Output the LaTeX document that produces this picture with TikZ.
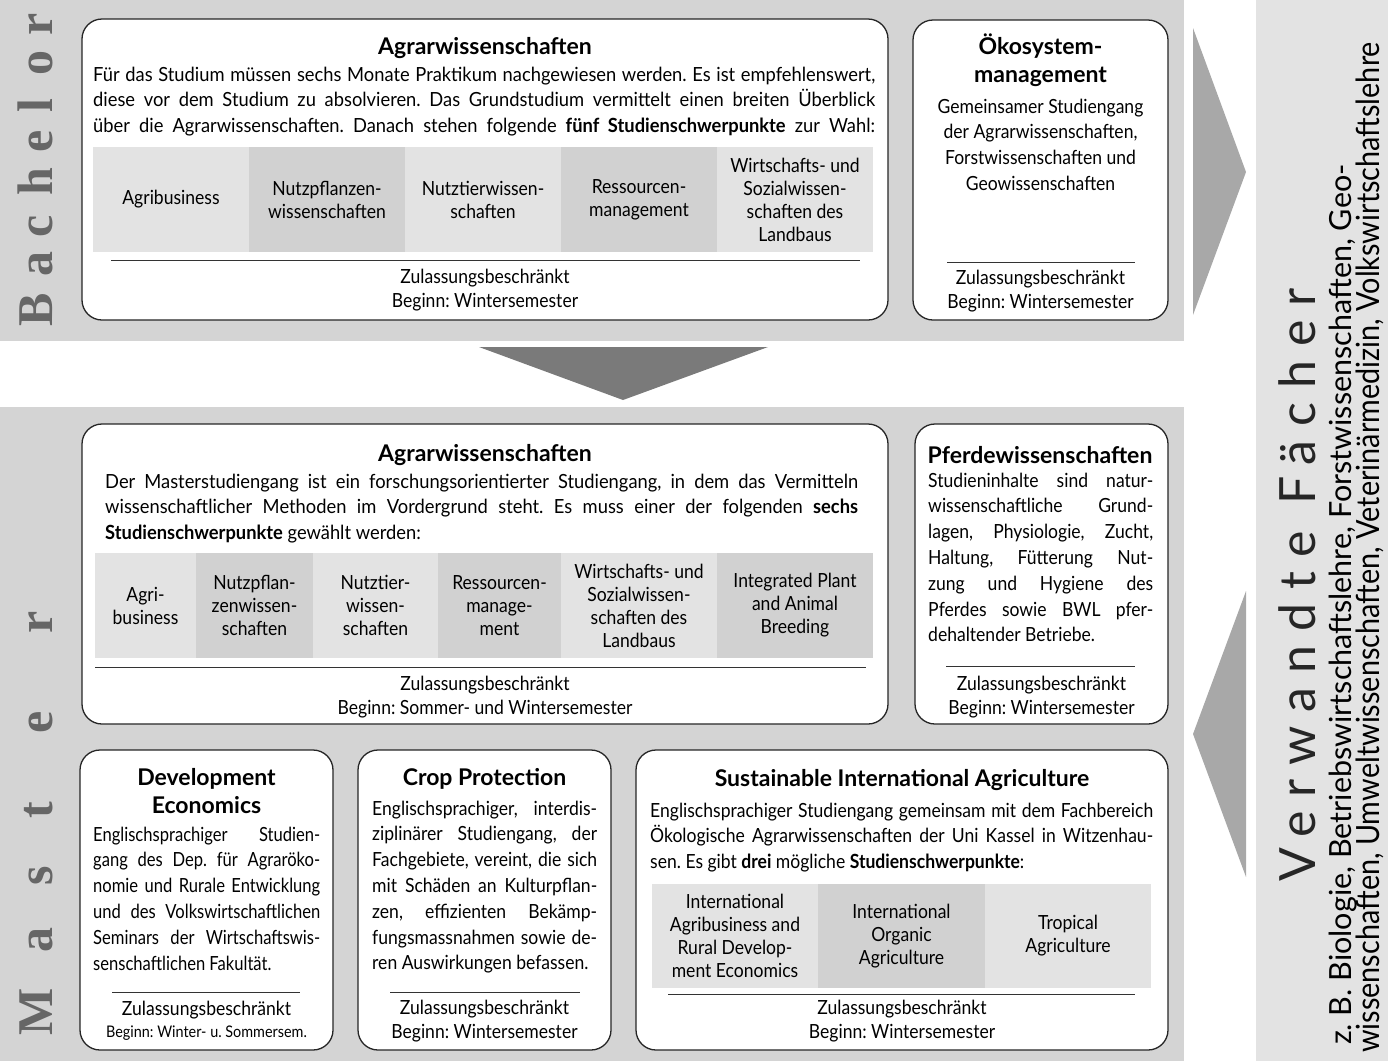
\documentclass[tikz,border=0pt]{standalone}
\usepackage{fontspec}
\setmainfont{Lato}[FakeStretch=0.9]
\newfontfamily\headface{Lato}
\newfontfamily\tightface{Lato}[FakeStretch=0.85]
\newfontfamily\looseface{Lato}[FakeStretch=0.94]
\newfontfamily\sideface{Lato}[FakeStretch=0.9]
\newfontfamily\sidewide{Lato}
\newfontfamily\wideface{Lato}[LetterSpace=28]
\newfontfamily\levelface{Liberation Serif}
\usepackage{tikz}
\hfuzz=100pt
\hbadness=10000
\hyphenpenalty=10000
\frenchspacing

\definecolor{band}{gray}{0.83}
\definecolor{side}{gray}{0.89}
\definecolor{lightcell}{gray}{0.89}
\definecolor{darkcell}{gray}{0.82}
\definecolor{arrowdark}{gray}{0.48}
\definecolor{arrowlight}{gray}{0.66}
\definecolor{labelgray}{gray}{0.4}

\begin{document}
\begin{tikzpicture}[x=1pt,y=-1pt]
\tikzstyle{prog}=[draw=black!85, line width=1.3pt, rounded corners=20pt, fill=white, inner sep=0]
\tikzstyle{heading}=[font=\headface\bfseries\fontsize{23}{28}\selectfont, align=center, inner sep=0]
\tikzstyle{para}=[font=\fontsize{19.5}{25.8}\selectfont, align=justify, anchor=base west, inner sep=0]
\tikzstyle{focus1}=[fill=lightcell, align=center, inner sep=0, font=\fontsize{19.5}{23}\selectfont]
\tikzstyle{focus2}=[focus1, fill=darkcell]
\tikzstyle{admit}=[font=\fontsize{19.5}{24.5}\selectfont, align=center, inner sep=0]
\tikzstyle{sep}=[line width=1pt, black!80]
\tikzstyle{level}=[rotate=90, anchor=base, inner sep=0, text=labelgray, font=\levelface\bfseries\fontsize{50}{50}\selectfont]

\useasboundingbox (0,0) rectangle (1388,1061);

% bands
\fill[band] (0,0) rectangle (1184,341);
\fill[band] (0,407) rectangle (1184,1061);
\fill[side] (1256,0) rectangle (1388,1061);

% arrows
\fill[arrowdark] (479,347) -- (768,347) -- (623,400) -- cycle;
\fill[arrowlight] (1193,28) -- (1246,172) -- (1193,315) -- cycle;
\fill[arrowlight] (1246,591) -- (1193,734) -- (1246,877) -- cycle;

% side labels
\foreach \ch/\pos in {B/310,a/264,c/226,h/182,e/141,l/106,o/63,r/24}
  \node (b\ch) at (52,\pos) [level] {\ch};
\foreach \ch/\pos in {M/1012,a/940,s/876,t/810,e/722,r/622}
  \node (m\ch) at (52,\pos) [level] {\ch};

% Bachelor Agrarwissenschaften
\node (bagrar) at (485,169.5) [prog, minimum width=806pt, minimum height=301pt] {};
\node (bagrart) at (485,48) [heading] {Agrarwissenschaften};
\node (bagrarp) at (93,81) [para, text width=782pt, font=\looseface\fontsize{19.5}{25.8}\selectfont] {Für das Studium müssen sechs Monate Praktikum nachgewiesen werden. Es ist empfehlenswert,\linebreak
  diese vor dem Studium zu absolvieren. Das Grundstudium vermittelt einen breiten Überblick\linebreak
  über die Agrarwissenschaften. Danach stehen folgende \textbf{fünf Studienschwerpunkte} zur Wahl:\linebreak\mbox{}};
\node (b1) at (171,199.5) [focus1, minimum width=156pt, minimum height=105pt] {Agribusiness};
\node (b2) at (327,199.5) [focus2, minimum width=156pt, minimum height=105pt] {Nutzpflanzen-\\wissenschaften};
\node (b3) at (483,199.5) [focus1, minimum width=156pt, minimum height=105pt] {Nutztierwissen-\\schaften};
\node (b4) at (639,199.5) [focus2, minimum width=156pt, minimum height=105pt] {Ressourcen-\\management};
\node (b5) at (795,199.5) [focus1, minimum width=156pt, minimum height=105pt] {Wirtschafts- und\\Sozialwissen-\\schaften des\\Landbaus};
\draw[sep] (111,260) -- (860,260);
\node (bagrarz) at (485,290) [admit] {Zulassungsbeschränkt\\Beginn: Wintersemester};

% Bachelor Oekosystemmanagement
\node (boeko) at (1040.5,170) [prog, minimum width=255pt, minimum height=300pt] {};
\node (boekot) at (1040.5,60) [heading] {Ökosystem-\\management};
\node (boekop) at (1040.5,144.5) [admit, font=\fontsize{19.5}{25.7}\selectfont] {Gemeinsamer Studiengang\\der Agrarwissenschaften,\\Forstwissenschaften und\\Geowissenschaften};
\draw[sep] (947,262) -- (1135,262);
\node (boekoz) at (1040.5,291) [admit] {Zulassungsbeschränkt\\Beginn: Wintersemester};

% Master Agrarwissenschaften
\node (magrar) at (485,574) [prog, minimum width=806pt, minimum height=300pt] {};
\node (magrart) at (485,455) [heading] {Agrarwissenschaften};
\node (magrarp) at (105,488) [para, text width=753pt, font=\looseface\fontsize{19.5}{25.8}\selectfont] {Der Masterstudiengang ist ein forschungsorientierter Studiengang, in dem das Vermitteln\linebreak
  wissenschaftlicher Methoden im Vordergrund steht. Es muss einer der folgenden \textbf{sechs}\linebreak
  \textbf{Studienschwerpunkte} gewählt werden:};
\node (m1) at (145.5,605.5) [focus1, minimum width=101pt, minimum height=105pt] {Agri-\\business};
\node (m2) at (254.5,605.5) [focus2, minimum width=117pt, minimum height=105pt] {Nutzpflan-\\zenwissen-\\schaften};
\node (m3) at (375.5,605.5) [focus1, minimum width=125pt, minimum height=105pt] {Nutztier-\\wissen-\\schaften};
\node (m4) at (499.5,605.5) [focus2, minimum width=123pt, minimum height=105pt] {Ressourcen-\\manage-\\ment};
\node (m5) at (639,605.5) [focus1, minimum width=156pt, minimum height=105pt] {Wirtschafts- und\\Sozialwissen-\\schaften des\\Landbaus};
\node (m6) at (795,605.5) [focus2, minimum width=156pt, minimum height=105pt] {Integrated Plant\\and Animal\\Breeding};
\draw[sep] (95,667) -- (866,667);
\node (magrarz) at (485,697) [admit] {Zulassungsbeschränkt\\Beginn: Sommer- und Wintersemester};

% Pferdewissenschaften
\node (mpferd) at (1041.5,574) [prog, minimum width=253pt, minimum height=300pt] {};
\node (mpferdt) at (1040,455) [heading] {Pferdewissenschaften};
\node (mpferdp) at (928,487) [para, text width=225pt] {Studieninhalte sind natur-\linebreak
  wissenschaftliche Grund-\linebreak
  lagen, Physiologie, Zucht,\linebreak
  Haltung, Fütterung Nut-\linebreak
  zung und Hygiene des\linebreak
  Pferdes sowie BWL pfer-\linebreak
  dehaltender Betriebe.};
\draw[sep] (946,666) -- (1135,666);
\node (mpferdz) at (1041.5,697) [admit] {Zulassungsbeschränkt\\Beginn: Wintersemester};

% Development Economics
\node (mdev) at (206.5,900) [prog, minimum width=253pt, minimum height=300pt] {};
\node (mdevt) at (206.5,791) [heading] {Development\\Economics};
\node (mdevp) at (93,841) [para, text width=227pt, font=\tightface\fontsize{19.5}{25.8}\selectfont] {Englischsprachiger Studien-\linebreak
  gang des Dep. für Agraröko-\linebreak
  nomie und Rurale Entwicklung\linebreak
  und des Volkswirtschaftlichen\linebreak
  Seminars der Wirtschaftswis-\linebreak
  senschaftlichen Fakultät.};
\draw[sep] (112,992) -- (300,992);
\node (mdevz) at (206.5,1010) [admit] {Zulassungsbeschränkt};
\node (mdevb) at (206.5,1033) [admit, font=\fontsize{16}{20}\selectfont] {Beginn: Winter- u. Sommersem.};

% Crop Protection
\node (mcrop) at (484.5,900) [prog, minimum width=253pt, minimum height=300pt] {};
\node (mcropt) at (484.5,779) [heading] {Crop Protection};
\node (mcropp) at (372,815) [para, text width=225pt] {Englischsprachiger, interdis-\linebreak
  ziplinärer Studiengang, der\linebreak
  Fachgebiete, vereint, die sich\linebreak
  mit Schäden an Kulturpflan-\linebreak
  zen, effizienten Bekämp-\linebreak
  fungsmassnahmen sowie de-\linebreak
  ren Auswirkungen befassen.};
\draw[sep] (390,992) -- (580,992);
\node (mcropz) at (484.5,1021) [admit] {Zulassungsbeschränkt\\Beginn: Wintersemester};

% Sustainable International Agriculture
\node (msia) at (902,900) [prog, minimum width=532pt, minimum height=300pt] {};
\node (msiat) at (902,780) [heading] {Sustainable International Agriculture};
\node (msiap) at (650,817) [para, text width=503pt] {Englischsprachiger Studiengang gemeinsam mit dem Fachbereich\linebreak
  Ökologische Agrarwissenschaften der Uni Kassel in Witzenhau-\linebreak
  sen. Es gibt \textbf{drei} mögliche \textbf{Studienschwerpunkte}:};
\node (s1) at (735,936) [focus1, minimum width=166pt, minimum height=104pt] {International\\Agribusiness and\\Rural Develop-\\ment Economics};
\node (s2) at (901.5,936) [focus2, minimum width=167pt, minimum height=104pt] {International\\Organic\\Agriculture};
\node (s3) at (1068,936) [focus1, minimum width=166pt, minimum height=104pt] {Tropical\\Agriculture};
\draw[sep] (668,994) -- (1135,994);
\node (msiaz) at (902,1021) [admit] {Zulassungsbeschränkt\\Beginn: Wintersemester};

% Verwandte Faecher
\node (vf) at (1297,882) [rotate=90, anchor=west, inner sep=0, text=black!85, font=\wideface\fontsize{50}{50}\selectfont] {Verwandte Fächer};
\node (vfa) at (1351,1045) [rotate=90, anchor=base west, inner sep=0, font=\sidewide\fontsize{30.5}{30}\selectfont] {z. B. Biologie, Betriebswirtschaftslehre, Forstwissenschaften, Geo-};
\node (vfb) at (1379,1053) [rotate=90, anchor=base west, inner sep=0, font=\sideface\fontsize{32}{30}\selectfont] {wissenschaften, Umweltwissenschaften, Veterinärmedizin, Volkswirtschaftslehre};
\end{tikzpicture}
\end{document}
